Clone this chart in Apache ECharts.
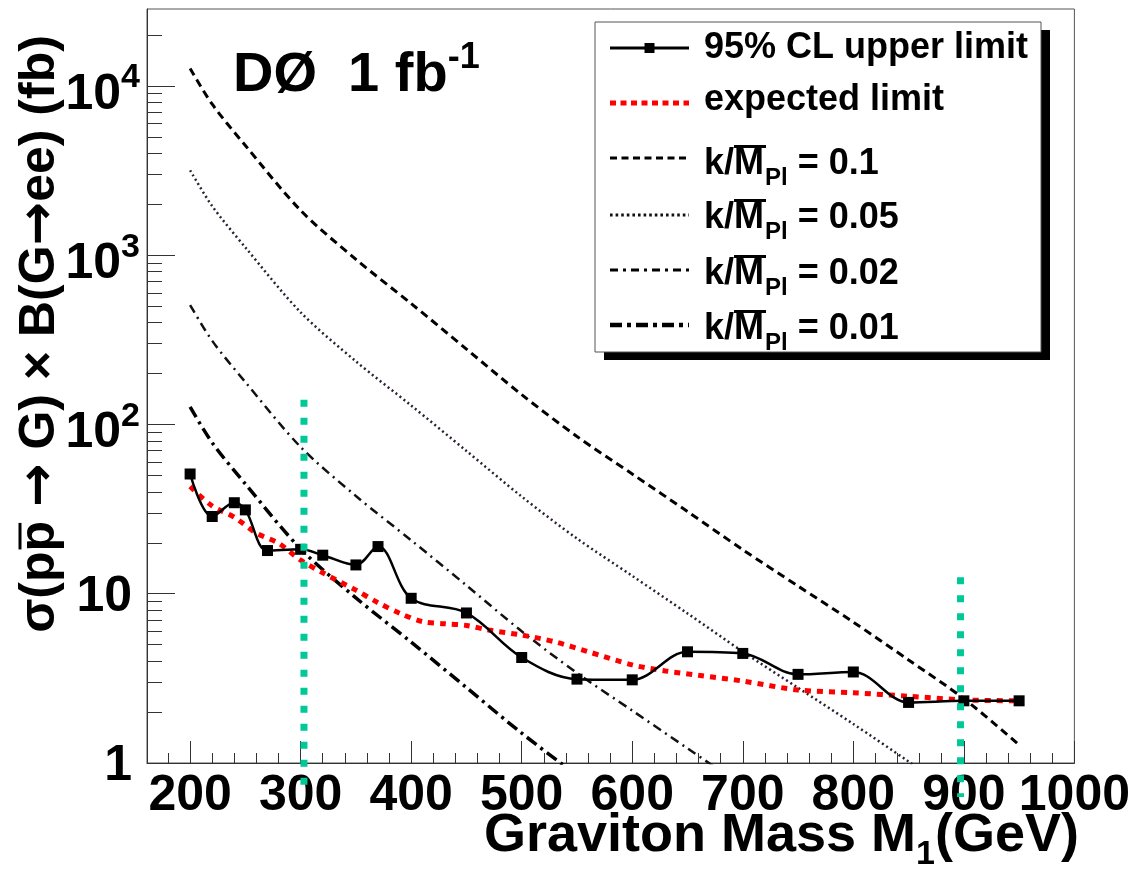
<!DOCTYPE html>
<html>
<head>
<meta charset="utf-8">
<script src="https://cdn.jsdelivr.net/npm/echarts@6/dist/echarts.min.js"></script>
<style>html,body{margin:0;padding:0;background:#fff}#c{width:1133px;height:884px}</style>
</head>
<body>
<div id="c"></div>
<script>
// ---------------- data ----------------
const clMass  = [200, 220, 240, 250, 270, 300, 320, 350, 370, 400, 450, 500, 550, 600, 650, 700, 750, 800, 850, 900, 950];
const clLimit = [51, 28.6, 34.5, 31.3, 18.0, 18.3, 16.9, 14.8, 19.0, 9.4, 7.7, 4.2, 3.13, 3.1, 4.54, 4.44, 3.34, 3.45, 2.28, 2.33, 2.33];

const expMass  = [200, 220, 240, 260, 280, 300, 320, 350, 370, 390, 410, 430, 450, 470, 500, 530, 560, 600, 630, 660, 700, 750, 800, 850, 900, 950];
const expLimit = [43, 33, 28.3, 22.8, 19.9, 15.8, 13.3, 10.5, 8.85, 7.65, 6.85, 6.65, 6.5, 6.1, 5.7, 5.2, 4.55, 3.8, 3.5, 3.3, 3.05, 2.7, 2.6, 2.48, 2.36, 2.33];

const thMass = [200, 220, 250, 300, 350, 400, 450, 500, 550, 600, 650, 700, 750, 800, 850, 900, 950];
const k010 = [12700, 7800, 4450, 1840, 945, 518, 279, 150, 85, 51, 30.6, 18.2, 11.1, 6.8, 4.06, 2.4, 1.28];
const k005 = [3175, 1950, 1112, 460, 236, 129.5, 69.8, 37.5, 21.2, 12.75, 7.65, 4.55, 2.78, 1.7, 1.02, 0.6, 0.32];
const k002 = [508, 312, 178, 73.6, 37.8, 20.7, 11.2, 6.0, 3.4, 2.04, 1.22, 0.73, 0.44, 0.27, 0.16, 0.096, 0.051];
const k001 = [127, 78, 44.5, 18.4, 9.45, 5.18, 2.79, 1.5, 0.85, 0.51, 0.31, 0.18, 0.11, 0.068, 0.04, 0.024, 0.013];

// vertical cut markers (teal)
const cutMass   = [303, 897];
const cutTop    = [140, 12.5];
const cutBottom = [0.67, 0.63];

// axis ticks / labels
const xMajor = [200, 300, 400, 500, 600, 700, 800, 900, 1000];
const yMajor = [1, 10, 100, 1000, 10000];
const yBase  = ['1', '10', '10', '10', '10'];
const yExp   = ['', '', '2', '3', '4'];

const legendNames = ['95% CL upper limit', 'expected limit', '0.1', '0.05', '0.02', '0.01'];

// ---------------- helpers ----------------
const FF = "'Liberation Sans', Arial, Helvetica, sans-serif";
const xMinor = [];
for (let m = 180; m < 1000; m += 20) if (m % 100 !== 0) xMinor.push(m);
const yMinor = [];
yMajor.forEach(d => { for (let k = 2; k <= 9; k++) if (k * d <= 28500) yMinor.push(k * d); });

const ctx = document.createElement('canvas').getContext('2d');
function tw(s, size, fam) { ctx.font = 'bold ' + size + 'px ' + (fam || '"Liberation Sans"'); return ctx.measureText(s).width; }
const pairs = (xs, ys) => xs.map((x, i) => [x, ys[i]]);
function txt(x, y, s, size, align, extra) {
  return Object.assign({ type: 'text', z: 102, x: x, y: y,
    style: { text: s, fontSize: size, fontWeight: 'bold', fontFamily: FF, fill: '#000', align: align || 'left', verticalAlign: 'middle' } }, extra || {});
}

const chart = echarts.init(document.getElementById('c'));

const tickLine = { color: '#333', width: 1 };
const xAxisBase = { type: 'value', min: 161, max: 1000, gridIndex: 0, position: 'bottom', splitLine: { show: false } };
const yAxisBase = { type: 'log', logBase: 10, min: 1, max: 28500, gridIndex: 0, position: 'left', splitLine: { show: false } };

// ---------------- series ----------------
function th(name, ys, style) {
  return { name: name, type: 'line', xAxisIndex: 0, yAxisIndex: 0, data: pairs(thMass, ys), symbol: 'none', smooth: 0.3,
    lineStyle: style, z: 3, silent: true };
}
const series = [
  th('k/M = 0.1', k010, { color: '#000', width: 3, type: [8, 5] }),
  th('k/M = 0.05', k005, { color: '#2a1f33', width: 2.5, type: [2, 3] }),
  th('k/M = 0.02', k002, { color: '#111', width: 2.5, type: [9, 5, 2, 5] }),
  th('k/M = 0.01', k001, { color: '#000', width: 3.5, type: [12, 5, 3, 5] }),
  { name: 'expected limit', type: 'line', data: pairs(expMass, expLimit), symbol: 'none', smooth: 0.3,
    lineStyle: { color: '#ff0000', width: 5, type: [6, 6] }, z: 4, silent: true },
  { name: '95% CL upper limit', type: 'line', data: pairs(clMass, clLimit), symbol: 'rect', symbolSize: 11, smooth: 0.35,
    itemStyle: { color: '#000' }, lineStyle: { color: '#000', width: 2.5 }, z: 5, silent: true }
];
cutMass.forEach((m, i) => {
  series.push({ name: 'cut' + i, type: 'line', data: [[m, cutTop[i]], [m, cutBottom[i]]], symbol: 'none', clip: false,
    lineStyle: { color: '#00c896', width: 7, type: [7, 11], cap: 'butt' }, z: 6, silent: true });
});

const option = {
  animation: false,
  backgroundColor: '#fff',
  textStyle: { fontFamily: FF },
  grid: { left: 147, right: 56, top: 9, bottom: 121, show: true, borderColor: '#555', borderWidth: 1, backgroundColor: 'transparent' },
  xAxis: [
    Object.assign({}, xAxisBase, {
      axisLine: { show: true, lineStyle: { color: '#333', width: 1 } },
      axisTick: { show: true, inside: true, length: 22, customValues: xMajor, lineStyle: tickLine },
      axisLabel: { show: true, customValues: xMajor, formatter: v => String(v), fontSize: 50, fontWeight: 'bold', color: '#000', fontFamily: FF, margin: 8 }
    }),
    Object.assign({}, xAxisBase, {
      axisLine: { show: false },
      axisTick: { show: true, inside: true, length: 10, customValues: xMinor, lineStyle: tickLine },
      axisLabel: { show: false }
    })
  ],
  yAxis: [
    Object.assign({}, yAxisBase, {
      axisLine: { show: true, lineStyle: { color: '#333', width: 1 } },
      axisTick: { show: true, inside: true, length: 28, customValues: yMajor, lineStyle: tickLine },
      axisLabel: { show: false }
    }),
    Object.assign({}, yAxisBase, {
      axisLine: { show: false },
      axisTick: { show: true, inside: true, length: 15, customValues: yMinor, lineStyle: tickLine },
      axisLabel: { show: false }
    })
  ],
  series: series
};
chart.setOption(option);

// ---------------- text & legend (graphic) ----------------
const G = [];
// y-axis labels placed at the axis' own tick positions
yMajor.forEach((v, i) => {
  const py = chart.convertToPixel({ yAxisIndex: 0 }, v);
  if (yExp[i]) {
    G.push(txt(121, py + 9, yBase[i], 50, 'right'));
    G.push(txt(121, py - 8, yExp[i], 34, 'left'));
  } else {
    G.push(txt(132, py + 3, yBase[i], 50, 'right'));
  }
});

// legend
const LX = 704, L1 = 610, L2 = 689, LFS = 36;
const rowLineY = [48, 103, 158, 215, 270, 325];
const rowTextY = [48, 100, 164, 218, 274, 329];
const legendStyles = [
  { stroke: '#000', lineWidth: 3, lineDash: null },
  { stroke: '#ff0000', lineWidth: 5, lineDash: [6, 4.5] },
  { stroke: '#000', lineWidth: 3, lineDash: [7, 4.5] },
  { stroke: '#111', lineWidth: 3, lineDash: [2.6, 3] },
  { stroke: '#000', lineWidth: 3, lineDash: [8, 5, 3, 5] },
  { stroke: '#000', lineWidth: 4.5, lineDash: [12, 5, 4, 5] }
];
G.push({ type: 'rect', z: 100, shape: { x: 604, y: 30, width: 446, height: 330 }, style: { fill: '#000' } });
G.push({ type: 'rect', z: 101, shape: { x: 595, y: 22, width: 446, height: 330 }, style: { fill: '#fff', stroke: '#555', lineWidth: 1 } });
legendNames.forEach((nm, i) => {
  const st = legendStyles[i];
  G.push({ type: 'line', z: 102, shape: { x1: L1, y1: rowLineY[i], x2: L2, y2: rowLineY[i] },
    style: { stroke: st.stroke, lineWidth: st.lineWidth, lineDash: st.lineDash, lineCap: 'butt' } });
  const ty = rowTextY[i];
  if (i < 2) {
    G.push(txt(LX, ty, nm, LFS));
  } else {
    const wk = tw('k/', LFS), wkm = tw('k/M', LFS), wpl = tw('Pl', 24);
    G.push(txt(LX, ty, 'k/M', LFS));
    G.push({ type: 'line', z: 102, shape: { x1: LX + wk, y1: ty - 17.5, x2: LX + wkm + 2, y2: ty - 17.5 }, style: { stroke: '#000', lineWidth: 3 } });
    G.push(txt(LX + wkm + 1, ty + 14, 'Pl', 24));
    G.push(txt(LX + wkm + 1 + wpl, ty, ' = ' + nm, LFS));
  }
});
G.push({ type: 'rect', z: 102, shape: { x: (L1 + L2) / 2 - 5, y: rowLineY[0] - 5, width: 10, height: 10 }, style: { fill: '#000' } });

// DØ label
const d0 = 'DØ  1 fb';
G.push(txt(233, 76, d0, 56));
G.push(txt(233 + tw(d0, 56), 58, '-1', 36));

// Y title (rotated) with bar over second p; arrows from DejaVu
const YT = 50, AT = 52, AF = "'DejaVu Sans'";
const yParts = [['σ(pp ', 0], ['→', 1], [' G) × B(G', 0], ['→', 1], ['ee) (fb)', 0]];
const yw = p => tw(p[0], p[1] ? AT : YT, p[1] ? '"DejaVu Sans"' : '"Liberation Sans"');
const YW = yParts.reduce((s, p) => s + yw(p), 0);
const rich = {
  t: { fontSize: YT, fontWeight: 'bold', fontFamily: FF, fill: '#000' },
  r: { fontSize: AT, fontWeight: 'bold', fontFamily: AF, fill: '#000' }
};
const ytext = yParts.map(p => '{' + (p[1] ? 'r' : 't') + '|' + p[0] + '}').join('');
const pb1 = -YW / 2 + tw('σ(p', YT), pb2 = -YW / 2 + tw('σ(pp', YT);
G.push({ type: 'group', x: 40, y: 334, rotation: Math.PI / 2, z: 102, children: [
  { type: 'text', z: 102, style: { text: ytext, rich: rich, align: 'center', verticalAlign: 'middle', fill: '#000' } },
  { type: 'line', z: 102, shape: { x1: pb1 + 2, y1: -20, x2: pb2 - 2, y2: -20 }, style: { stroke: '#000', lineWidth: 3 } }
] });

// X title with subscript
const xa = 'Graviton Mass M', xb = '(GeV)';
const xTot = tw(xa, 54) + tw('1', 34) + tw(xb, 54);
const xs0 = 1079 - xTot;
G.push(txt(xs0, 836, xa, 54));
G.push(txt(xs0 + tw(xa, 54), 855, '1', 34));
G.push(txt(xs0 + tw(xa, 54) + tw('1', 34), 836, xb, 54));

chart.setOption({ graphic: G });
</script>
</body>
</html>
